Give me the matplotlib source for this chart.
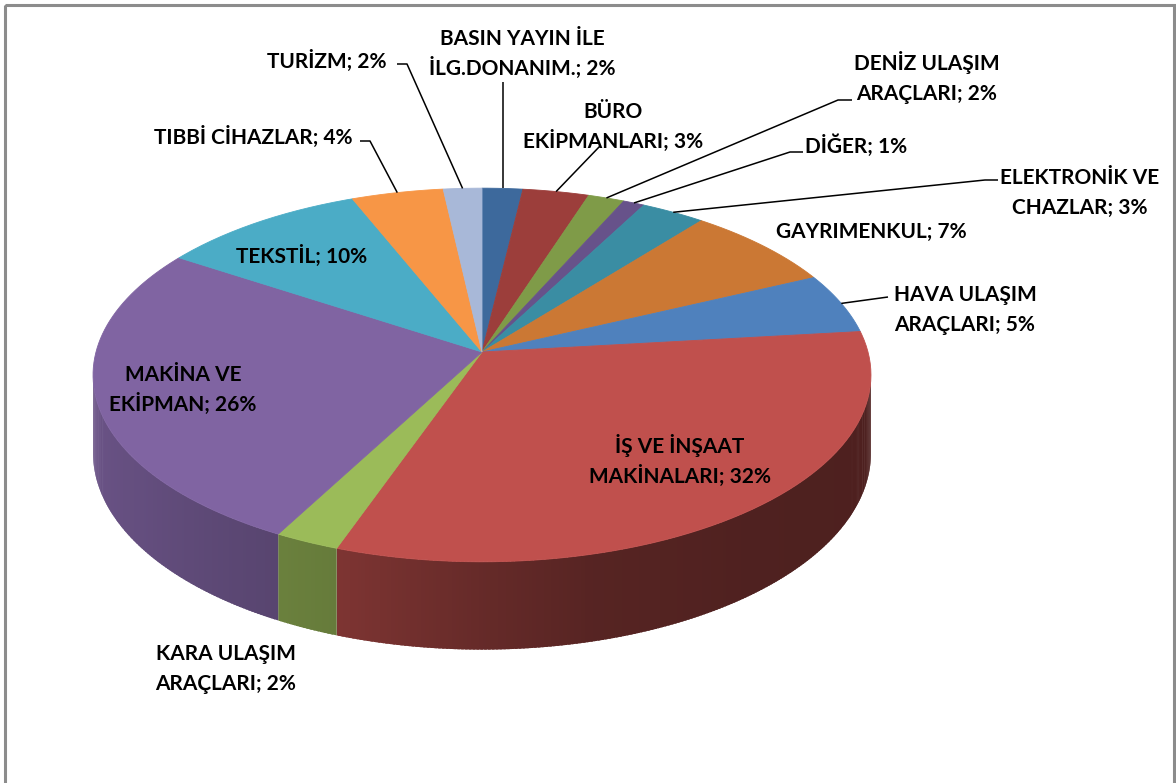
import numpy as np
import matplotlib
matplotlib.use("Agg")
import matplotlib.pyplot as plt
from matplotlib import transforms as mtransforms
from matplotlib.path import Path
from matplotlib.collections import PolyCollection
from matplotlib.patches import Rectangle
from matplotlib import colors as mcolors

# ---------------- data ----------------
categories = [
    "BASIN YAYIN İLE\nİLG.DONANIM.",
    "BÜRO\nEKİPMANLARI",
    "DENİZ ULAŞIM\nARAÇLARI",
    "DİĞER",
    "ELEKTRONİK VE\nCHAZLAR",
    "GAYRIMENKUL",
    "HAVA ULAŞIM\nARAÇLARI",
    "İŞ VE İNŞAAT\nMAKİNALARI",
    "KARA ULAŞIM\nARAÇLARI",
    "MAKİNA VE\nEKİPMAN",
    "TEKSTİL",
    "TIBBİ CİHAZLAR",
    "TURİZM",
]
shares = [1.9, 3.1, 1.7, 1.0, 3.0, 7.3, 5.2, 32.2, 2.4, 26.4, 9.7, 4.3, 1.8]
colors = ["#3D699C", "#9C3E3B", "#7F9B48", "#67528A", "#3A8DA3", "#CB7834",
          "#4F81BD", "#C0504D", "#9BBB59", "#8064A2", "#4BACC6", "#F79646",
          "#A8B8D8"]

# ---------------- layout (pixels) ----------------
W, H = 1176, 783
CX, CY = 482.0, 352.0      # pie centre on screen
RX, RY = 386.0, 184.0      # radii of the projected disc
PC = 0.123                 # perspective strength
DEPTH = 77.0               # thickness of the pie

# side shading as a function of angle (clockwise from top, degrees)
SH_T = [90, 140, 165, 180, 200, 235, 270]
SH_F = [0.40, 0.41, 0.45, 0.53, 0.66, 0.78, 0.86]

# label anchor (x, cap-centre of first line) and leader bends
label_pos = [(522, 37), (613, 110), (927, 62), (856, 145), (1080, 176),
             (871, 230), (965, 293), (680, 445), (226, 652), (183, 373),
             (302, 255), (253, 136), (327, 60)]
leaders = {
    0: [(503, 82)],
    1: [(600, 146)],
    2: [(838, 100), (852, 100)],
    3: [(790, 152), (803, 152)],
    4: [(985, 180), (998, 180)],
    6: [(888, 297)],
    11: [(370, 141), (360, 141)],
    12: [(407, 64), (397, 64)],
}
LINE_GAP = 30
CAP_HALF = 8


def project(u, v, drop=0.0):
    w = 1.0 + PC * v
    return CX + RX * u / w, CY + (drop - RY * v) / w


class Perspective(mtransforms.Transform):
    input_dims = 2
    output_dims = 2
    is_separable = False
    has_inverse = False

    def transform_non_affine(self, values):
        values = np.asarray(values, float)
        X, Y = project(values[:, 0], values[:, 1])
        return np.column_stack([X, Y])

    def transform_path_non_affine(self, path):
        polys = path.to_polygons(transform=mtransforms.Affine2D().scale(1000.0),
                                 closed_only=False)
        verts = np.vstack(polys) / 1000.0
        verts = np.vstack([verts, verts[:1]])
        return Path(self.transform_non_affine(verts))


fig = plt.figure(figsize=(W / 100, H / 100), dpi=100)
ax = fig.add_axes([0, 0, 1, 1])

# top face via pie
wedges, _ = ax.pie(shares, colors=colors, startangle=90, counterclock=False,
                   radius=1.0, center=(0, 0), wedgeprops=dict(linewidth=0.6))
persp = Perspective()
for wdg, col in zip(wedges, colors):
    wdg.set_transform(persp + ax.transData)
    wdg.set_edgecolor(col)
    wdg.set_zorder(3)

# side faces (thin overlapping strips give the shading gradient)
fractions = np.asarray(shares, float) / np.sum(shares)
edges_deg = 360.0 * np.concatenate([[0.0], np.cumsum(fractions)])
vis = np.degrees(np.arcsin(PC))
vis_lo, vis_hi = 90.0 + vis, 270.0 - vis
quads, qcols = [], []
for i in range(len(shares)):
    a0 = max(edges_deg[i], vis_lo)
    a1 = min(edges_deg[i + 1], vis_hi)
    if a1 <= a0:
        continue
    ts = np.linspace(a0, a1, max(2, int((a1 - a0) / 0.5) + 1))
    rgb = np.array(mcolors.to_rgb(colors[i]))
    for j, (t0, t1) in enumerate(zip(ts[:-1], ts[1:])):
        t1e = t1 + (0.35 if j < len(ts) - 2 else 0.0)
        r0, r1 = np.radians(t0), np.radians(t1e)
        u0, v0 = np.sin(r0), np.cos(r0)
        u1, v1 = np.sin(r1), np.cos(r1)
        quads.append([project(u0, v0), project(u1, v1),
                      project(u1, v1, DEPTH), project(u0, v0, DEPTH)])
        shade = np.interp(0.5 * (t0 + t1), SH_T, SH_F)
        qcols.append(np.clip(rgb * shade, 0, 1))
ax.add_collection(PolyCollection(quads, facecolors=qcols, edgecolors="none",
                                 linewidths=0, zorder=2))

# labels and leaders
font = dict(family=["Lato", "DejaVu Sans"], weight="bold", size=15,
            color="black")
for i, (name, val) in enumerate(zip(categories, shares)):
    text = f"{name}; {int(round(val))}%"
    x, y = label_pos[i]
    for k, line in enumerate(text.split("\n")):
        ax.text(x, y + k * LINE_GAP + CAP_HALF, line, ha="center",
                va="baseline", zorder=5, **font)
    if i in leaders:
        mid = np.radians(0.5 * (edges_deg[i] + edges_deg[i + 1]))
        ax0 = project(np.sin(mid), np.cos(mid))
        pts = [ax0] + leaders[i]
        if i == 0:
            pts = [ax0, (ax0[0], leaders[i][0][1])]
        xs, ys = zip(*pts)
        ax.plot(xs, ys, color="black", lw=1.1, zorder=4,
                solid_capstyle="butt")

ax.add_patch(Rectangle((5, 5), 1169, 800, fill=False, edgecolor="#8C8C8C",
                       lw=2.2, zorder=6, clip_on=False))

ax.set_aspect("auto")
ax.set_xlim(0, W)
ax.set_ylim(H, 0)
ax.axis("off")
fig.savefig("out.png", dpi=100)
